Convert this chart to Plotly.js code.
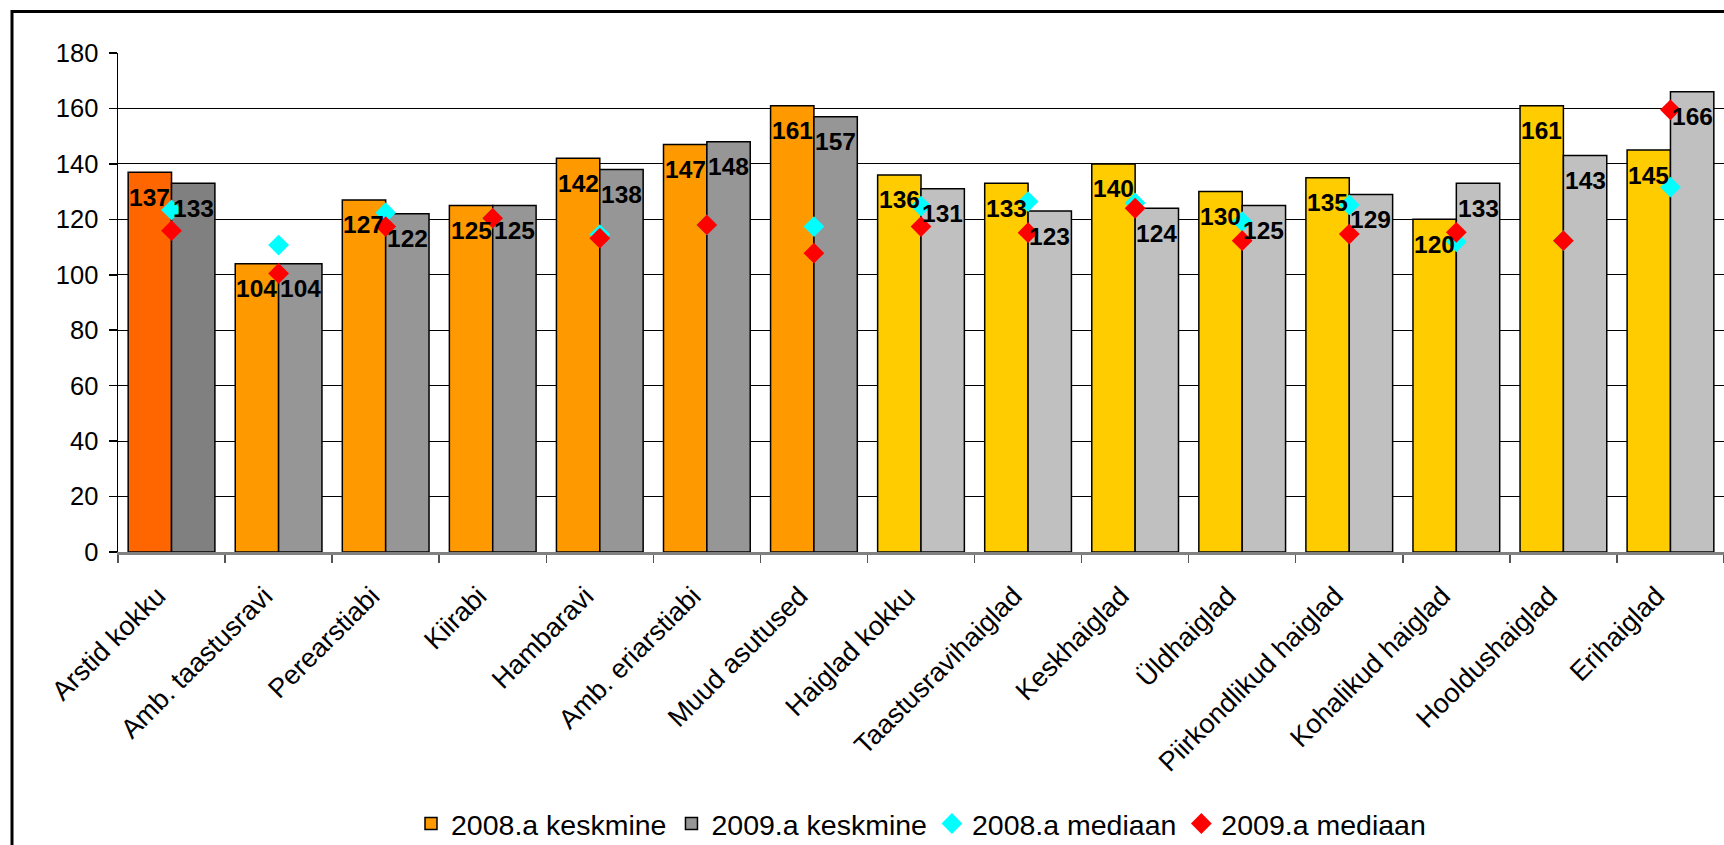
<!DOCTYPE html>
<html>
<head>
<meta charset="utf-8">
<script src="https://cdn.plot.ly/plotly-3.0.1.min.js"></script>
<style>
html,body{margin:0;padding:0;background:#fff;overflow:hidden;}
#chart{width:1724px;height:845px;}
</style>
</head>
<body>
<div id="chart"></div>
<script>
var categories = ['Arstid kokku','Amb. taastusravi','Perearstiabi','Kiirabi','Hambaravi','Amb. eriarstiabi','Muud asutused','Haiglad kokku','Taastusravihaiglad','Keskhaiglad','Üldhaiglad','Piirkondlikud haiglad','Kohalikud haiglad','Hooldushaiglad','Erihaiglad'];
var mean2008 = [137,104,127,125,142,147,161,136,133,140,130,135,120,161,145];
var mean2009 = [133,104,122,125,138,148,157,131,123,124,125,129,133,143,166];
var median2008 = [123.4,110.7,122.4,120.4,114.5,118,117.4,124.8,126.4,125.9,119.2,125.2,111.9,112.3,131.6];
var median2009 = [115.9,100.5,117.4,120.4,113.2,118,107.8,117.4,115.2,124,112.3,114.7,115.3,112.3,159.5];
var seriesNames = ['2008.a keskmine','2009.a keskmine','2008.a mediaan','2009.a mediaan'];

var colors2008 = ['#FF6600','#FF9900','#FF9900','#FF9900','#FF9900','#FF9900','#FF9900','#FFCC00','#FFCC00','#FFCC00','#FFCC00','#FFCC00','#FFCC00','#FFCC00','#FFCC00'];
var colors2009 = ['#808080','#969696','#969696','#969696','#969696','#969696','#969696','#C0C0C0','#C0C0C0','#C0C0C0','#C0C0C0','#C0C0C0','#C0C0C0','#C0C0C0','#C0C0C0'];

var FONT = 'Arial, "Liberation Sans", sans-serif';
var barLine = {color:'#000000', width:1.5};

function barTrace(name, xs, ys, cols, group, showLegend){
  return {type:'bar', name:name, x:xs, y:ys, offsetgroup:group, showlegend:showLegend,
    marker:{color:cols, line:barLine}, hoverinfo:'skip'};
}

var traces = [
  barTrace(seriesNames[0], categories.slice(1), mean2008.slice(1), colors2008.slice(1), 'g2008', true),
  barTrace(seriesNames[1], categories.slice(1), mean2009.slice(1), colors2009.slice(1), 'g2009', true),
  barTrace(seriesNames[0], categories.slice(0,1), mean2008.slice(0,1), colors2008.slice(0,1), 'g2008', false),
  barTrace(seriesNames[1], categories.slice(0,1), mean2009.slice(0,1), colors2009.slice(0,1), 'g2009', false),
  {type:'scatter', mode:'markers', name:seriesNames[2], x:categories, y:median2008,
   marker:{symbol:'diamond', size:16, color:'#00FFFF'}, hoverinfo:'skip'},
  {type:'scatter', mode:'markers', name:seriesNames[3], x:categories, y:median2009,
   marker:{symbol:'diamond', size:16, color:'#FF0000'}, hoverinfo:'skip'}
];

var annotations = [];
function addLabels(vals, shift){
  for (var i=0;i<categories.length;i++){
    annotations.push({x:categories[i], y:vals[i], xref:'x', yref:'y', text:'<b>'+String(Math.round(vals[i]))+'</b>',
      showarrow:false, xshift:shift, yshift:-25, xanchor:'center', yanchor:'middle',
      font:{family:FONT, size:24.5, color:'#000'}});
  }
}
addLabels(mean2008, -21.7);
addLabels(mean2009, 21.7);

var layout = {
  width:1724, height:845,
  margin:{l:118, r:0, t:53, b:293, pad:0, autoexpand:false},
  paper_bgcolor:'#ffffff', plot_bgcolor:'#ffffff',
  font:{family:FONT, color:'#000'},
  barmode:'group', bargap:0.19, bargroupgap:0,
  showlegend:true,
  legend:{orientation:'h', x:0.5, xanchor:'center', y:-0.545, yanchor:'middle',
    font:{family:FONT, size:28.5, color:'#000'}, bgcolor:'rgba(0,0,0,0)', traceorder:'normal'},
  xaxis:{type:'category', categoryorder:'array', categoryarray:categories, range:[-0.5, categories.length-0.5],
    automargin:false,
    tickangle:-45, tickfont:{family:FONT, size:27, color:'#000'},
    ticklabelstandoff:15, ticklabelshift:-14,
    tickson:'boundaries', ticks:'outside', ticklen:8, tickcolor:'#555', tickwidth:1.5,
    showline:true, linecolor:'#808080', linewidth:2.5, showgrid:false, zeroline:false},
  yaxis:{range:[0,180], dtick:20, tick0:0, automargin:false, tickfont:{family:FONT, size:25.5, color:'#000'},
    ticks:'outside', ticklen:8, tickcolor:'#000', tickwidth:1.5, ticklabelstandoff:5,
    showline:true, linecolor:'#000', linewidth:1.5,
    showgrid:true, gridcolor:'#000', gridwidth:1, zeroline:false},
  annotations:annotations,
  shapes:[{type:'rect', xref:'paper', yref:'paper', x0:-0.066, x1:1.05, y0:-0.75, y1:1.083,
    line:{color:'#000', width:3}, fillcolor:'rgba(0,0,0,0)', layer:'above'}]
};

Plotly.newPlot('chart', traces, layout, {displayModeBar:false, staticPlot:true});
</script>
</body>
</html>
